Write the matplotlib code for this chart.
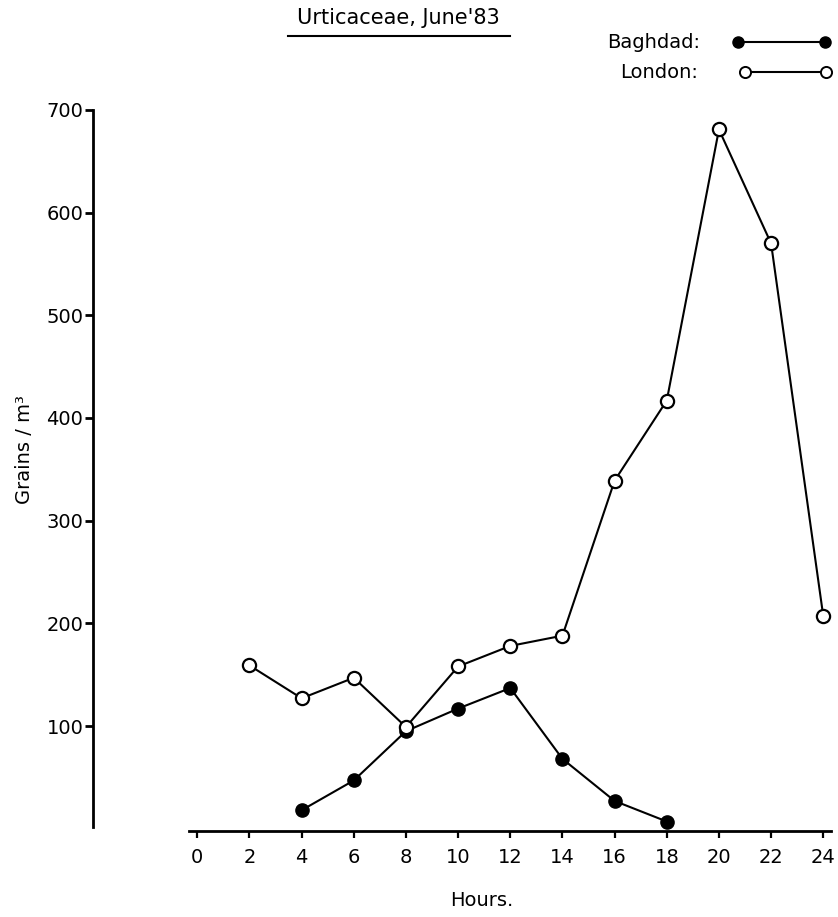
#Urticaceae pollen counts, Baghdad vs London
import matplotlib
matplotlib.use("Agg")
import matplotlib.pyplot as plt
from matplotlib.lines import Line2D

#数据
hours_baghdad = [4, 6, 8, 10, 12, 14, 16, 18]
baghdad = [18, 47, 95, 117, 137, 68, 27, 7]

hours_london = [2, 4, 6, 8, 10, 12, 14, 16, 18, 20, 22, 24]
london = [159, 127, 147, 99, 158, 178, 188, 339, 417, 681, 570, 207]

x_ticks = list(range(0, 25, 2))
y_ticks = [100, 200, 300, 400, 500, 600, 700]

W, H = 838, 917
plt.rcParams['font.family'] = ['DejaVu Sans']

fig = plt.figure(figsize=(W / 100, H / 100), dpi=100)
ax = fig.add_axes([93 / W, 0.0935, 742 / W, 0.8083])

#像素坐标 -> figure 坐标
def fx(px):
    return px / W

def fy(py):
    return 1 - py / H

ax.plot(hours_baghdad, baghdad, color="black", linewidth=1.5, marker="o",
        markersize=9.5, markerfacecolor="black", markeredgecolor="black",
        clip_on=False, zorder=3)
ax.plot(hours_london, london, color="black", linewidth=1.5, marker="o",
        markersize=9.5, markerfacecolor="white", markeredgecolor="black",
        markeredgewidth=1.6, clip_on=False, zorder=4)

ax.set_xlim(-4, 24.45)
ax.set_ylim(-2.5, 719.4)

for s in ["top", "right"]:
    ax.spines[s].set_visible(False)
ax.spines["left"].set_bounds(1.5, 700)
ax.spines["bottom"].set_bounds(-0.3, 24.3)
ax.spines["left"].set_linewidth(2)
ax.spines["bottom"].set_linewidth(2)

ax.set_xticks(x_ticks)
ax.set_xticklabels([str(v) for v in x_ticks])
ax.set_yticks(y_ticks)
ax.set_yticklabels([str(v) for v in y_ticks])
ax.tick_params(axis="y", direction="out", length=6, width=2, labelsize=14, pad=1)
ax.tick_params(axis="x", direction="out", length=5, width=1.6, labelsize=14, pad=7)

#坐标轴标题
fig.text(fx(24), fy(450), "Grains / m³", rotation=90, fontsize=14,
         ha="center", va="center")
fig.text(fx(482), fy(900), "Hours.", fontsize=14, ha="center", va="center")

#标题和下划线
fig.text(fx(398), fy(18), "Urticaceae, June'83", fontsize=15, ha="center", va="center")
fig.add_artist(Line2D([fx(288), fx(510)], [fy(36), fy(36)], color="black",
                      linewidth=1.5, transform=fig.transFigure))

#图例
fig.text(fx(700), fy(42), "Baghdad:", fontsize=14, ha="right", va="center")
fig.add_artist(Line2D([fx(738), fx(825)], [fy(42), fy(42)], color="black",
                      linewidth=1.5, marker="o", markersize=8,
                      markerfacecolor="black", markeredgecolor="black",
                      transform=fig.transFigure))
fig.text(fx(698), fy(72), "London:", fontsize=14, ha="right", va="center")
fig.add_artist(Line2D([fx(745), fx(826)], [fy(72), fy(72)], color="black",
                      linewidth=1.5, marker="o", markersize=8,
                      markerfacecolor="white", markeredgecolor="black",
                      markeredgewidth=1.4, transform=fig.transFigure))

fig.savefig("out.png", dpi=100)
